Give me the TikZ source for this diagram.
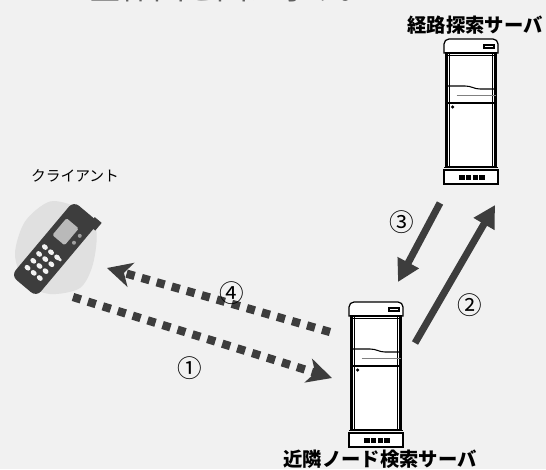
\documentclass[tikz,border=0pt]{standalone}
\usepackage{fontspec}
\newfontfamily\jp{Noto Sans CJK JP}
\usepackage{tikz}
\usetikzlibrary{arrows.meta}
\definecolor{paper}{gray}{0.945}
\definecolor{ink}{gray}{0.24}
\tikzset{
    srvlabel/.style={font=\jp\bfseries\fontsize{11}{13}\selectfont, inner sep=0pt},
    cltlabel/.style={font=\jp\fontsize{8.4}{10}\selectfont, inner sep=0pt},
    stepnum/.style={font=\jp\fontsize{14}{16}\selectfont, inner sep=0pt},
    query/.style={draw=ink, line width=4pt, -{Triangle[length=12.5pt, width=13pt]}},
    radio/.style={draw=ink, line width=4.7pt, dash pattern=on 4.7pt off 4.2pt,
                  -{Stealth[length=14pt, width=14pt, inset=4pt]}},
    server/.pic={
        % cap with lamp
        \draw[fill=white, line width=0.7pt] (0,2.62) -- (0,2.8) to[out=90, in=180] (0.1,2.9)
            -- (0.98,2.9) to[out=0, in=90] (1.08,2.8) -- (1.08,2.62) -- cycle;
        \draw[fill=white, line width=0.9pt] (0.8,2.72) rectangle (1.0,2.78);
        % cabinet
        \draw[fill=white, line width=1.4pt] (0.05,0.34) rectangle (1.03,2.62);
        \draw[thin] (0.11,0.34) -- (0.11,2.62) (0.97,0.34) -- (0.97,2.62);
        \draw[thin] (0.05,2.57) -- (1.03,2.57);
        \draw[line width=0.6pt] (0.05,1.96) -- (0.42,1.96)
            .. controls (0.55,1.96) and (0.6,1.9) .. (0.72,1.9) -- (1.03,1.9);
        \draw[very thin, gray] (0.25,1.78) -- (1.03,1.78);
        \draw[line width=0.9pt] (0.05,1.62) -- (1.03,1.62);
        \fill (0.17,1.54) circle (0.035);
        % base with vents
        \draw[fill=white, line width=0.7pt] (0,0) rectangle (1.08,0.28);
        \draw[thin] (0,0.34) -- (1.08,0.34);
        \foreach \k in {0,...,3}
            \fill (0.3+0.135*\k,0.08) rectangle ++(0.11,0.1);
    }
}

\begin{document}
\begin{tikzpicture}[every node/.style={inner sep=0pt}]
  \useasboundingbox (0,0) rectangle (10.92,9.38);
  \fill[paper] (0,0) rectangle (10.92,9.38);
  \node[anchor=west, text=gray!75!black, font=\jp\fontsize{18}{20}\selectfont] (head) at (1.16,9.64) {の全体図を図に示す。};

  % servers
  \pic (route) at (8.88,5.70) {server};
  \pic (near)  at (6.98,0.44) {server};
  \node[srvlabel] (routelbl) at (9.50,8.88) {経路探索サーバ};
  \node[srvlabel] (nearlbl)  at (7.60,0.19) {近隣ノード検索サーバ};

  % handset
  \fill[gray!24] plot[smooth cycle] coordinates {(0.30,4.30) (0.50,4.95) (1.00,5.35) (1.55,5.22)
      (1.92,4.80) (1.86,4.10) (1.60,3.62) (1.00,3.50) (0.50,3.72)};
  \begin{scope}[shift={(1.10,4.40)}, rotate=-40]
    \fill[ink] (0.2,0.8) rectangle (0.38,1.0);
    \fill[ink, rounded corners=0.14cm] (-0.33,-0.97) rectangle (0.33,0.97);
    \fill[gray!55, rounded corners=0.03cm] (-0.22,0.18) rectangle (0.1,0.62);
    \fill[gray!75] (0.21,0.52) circle (0.04) (0.21,0.34) circle (0.04);
    \foreach \r in {0,...,3}
      \foreach \c in {-1,0,1}
        \fill[white!90!gray] (0.16*\c-0.02,-0.1-0.18*\r) ellipse (0.065 and 0.05);
    \fill[white!85!gray] (0.21,-0.1) ellipse (0.04 and 0.03);
  \end{scope}
  \node[cltlabel] (cltlbl) at (1.50,5.86) {クライアント};

  % message flow
  \coordinate (r-out) at (8.80,5.32);
  \coordinate (n-in)  at (7.96,3.74);
  \coordinate (n-out) at (8.30,2.52);
  \coordinate (r-in)  at (9.90,5.28);
  \coordinate (n-dl)  at (6.60,2.74);
  \coordinate (c-in)  at (2.14,4.02);
  \coordinate (c-out) at (1.46,3.44);
  \coordinate (n-ul)  at (6.64,1.82);
  \draw[radio] (c-out) -- (n-ul);
  \draw[query] (n-out) -- (r-in);
  \draw[query] (r-out) -- (n-in);
  \draw[radio] (n-dl) -- (c-in);

  \node[stepnum] (s1) at (3.80,2.02) {①};
  \node[stepnum] (s2) at (9.40,3.28) {②};
  \node[stepnum] (s3) at (8.04,4.94) {③};
  \node[stepnum] (s4) at (4.64,3.52) {④};
\end{tikzpicture}
\end{document}
